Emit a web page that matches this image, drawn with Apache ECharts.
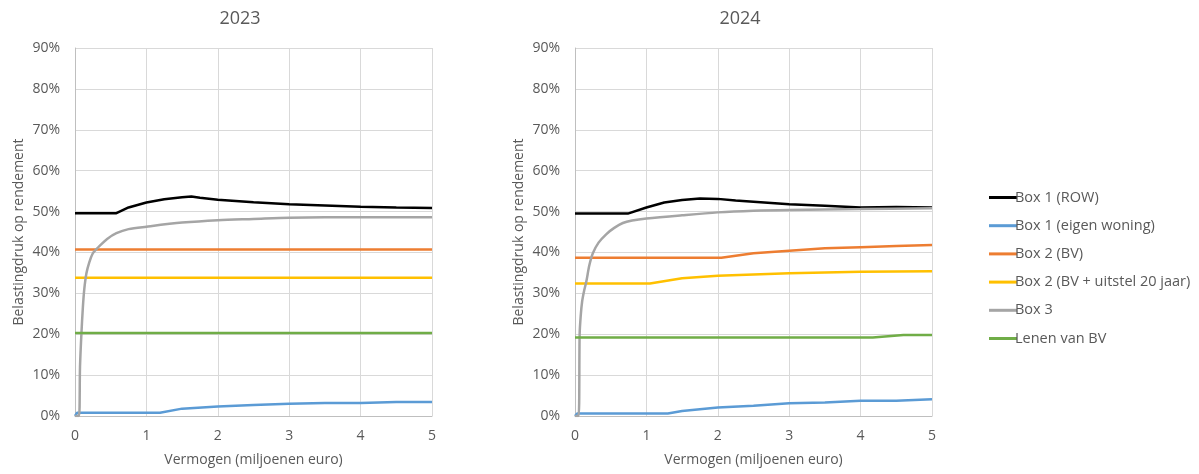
<!DOCTYPE html>
<html lang="nl">
<head>
    <meta charset="UTF-8">
    <script src="https://cdn.jsdelivr.net/npm/echarts@6/dist/echarts.min.js"></script>
</head>
<body style="margin:0;background:#fff;">
<div id="main" style="width:1199px;height:474px;"></div>
<script type="text/javascript">
    // ---- data (x in miljoenen euro, y in %) ----
    var names = ['Box 1 (ROW)', 'Box 1 (eigen woning)', 'Box 2 (BV)', 'Box 2 (BV + uitstel 20 jaar)', 'Box 3', 'Lenen van BV'];
    var colors = ['#000000', '#5b9bd5', '#ed7d31', '#ffc000', '#a5a5a5', '#70ad47'];
    var xTicks = [0, 1, 2, 3, 4, 5];

    // 2023
    var rowX2023 = [0, 0.58, 0.75, 1.0, 1.25, 1.5, 1.63, 1.75, 2.0, 2.5, 3.0, 3.5, 4.0, 4.5, 5.0];
    var rowY2023 = [49.6, 49.6, 51.0, 52.2, 53.0, 53.5, 53.7, 53.4, 52.9, 52.3, 51.8, 51.5, 51.2, 51.0, 50.9];
    var eigenX2023 = [0, 0.03, 1.19, 1.5, 2.0, 2.5, 3.0, 3.5, 4.0, 4.5, 5.0];
    var eigenY2023 = [0, 0.8, 0.8, 1.8, 2.3, 2.7, 3.0, 3.2, 3.2, 3.4, 3.4];
    var bvX2023 = [0, 5];
    var bvY2023 = [40.7, 40.7];
    var uitstelX2023 = [0, 5];
    var uitstelY2023 = [33.8, 33.8];
    var box3X2023 = [0, 0.055, 0.07, 0.09, 0.11, 0.13, 0.16, 0.2, 0.25, 0.3, 0.345, 0.45, 0.58, 0.75, 1.0, 1.5, 2.0, 2.5, 3.0, 4.0, 5.0];
    var box3Y2023 = [0, 0, 12.0, 20.2, 26.5, 31.0, 34.9, 37.6, 39.8, 40.8, 41.6, 43.3, 44.7, 45.7, 46.3, 47.3, 47.9, 48.2, 48.5, 48.6, 48.6];
    var lenenX2023 = [0, 5];
    var lenenY2023 = [20.3, 20.3];

    // 2024
    var rowX2024 = [0, 0.74, 1.0, 1.25, 1.5, 1.75, 2.0, 2.25, 2.5, 3.0, 3.5, 4.0, 4.5, 5.0];
    var rowY2024 = [49.5, 49.5, 51.0, 52.2, 52.8, 53.2, 53.1, 52.7, 52.4, 51.8, 51.4, 51.0, 51.1, 51.0];
    var eigenX2024 = [0, 0.03, 1.3, 1.5, 2.0, 2.5, 3.0, 3.5, 4.0, 4.5, 5.0];
    var eigenY2024 = [0, 0.6, 0.6, 1.2, 2.1, 2.5, 3.1, 3.3, 3.7, 3.7, 4.1];
    var bvX2024 = [0, 2.05, 2.5, 3.0, 3.5, 4.0, 4.5, 5.0];
    var bvY2024 = [38.7, 38.7, 39.8, 40.4, 41.0, 41.3, 41.6, 41.8];
    var uitstelX2024 = [0, 1.05, 1.5, 2.0, 2.5, 3.0, 3.5, 4.0, 5.0];
    var uitstelY2024 = [32.4, 32.4, 33.7, 34.3, 34.6, 34.9, 35.1, 35.3, 35.4];
    var box3X2024 = [0, 0.05, 0.065, 0.08, 0.1, 0.13, 0.16, 0.2, 0.25, 0.33, 0.44, 0.55, 0.67, 0.8, 1.0, 1.5, 2.0, 2.5, 3.0, 4.0, 5.0];
    var box3Y2024 = [0, 0, 20.0, 24.5, 28.0, 30.8, 33.0, 36.8, 39.8, 42.4, 44.5, 46.0, 47.2, 47.8, 48.3, 49.1, 49.8, 50.2, 50.4, 50.6, 50.8];
    var lenenX2024 = [0, 4.17, 4.6, 5.0];
    var lenenY2024 = [19.2, 19.2, 19.8, 19.8];

    var xs2023 = [rowX2023, eigenX2023, bvX2023, uitstelX2023, box3X2023, lenenX2023];
    var ys2023 = [rowY2023, eigenY2023, bvY2023, uitstelY2023, box3Y2023, lenenY2023];
    var xs2024 = [rowX2024, eigenX2024, bvX2024, uitstelX2024, box3X2024, lenenX2024];
    var ys2024 = [rowY2024, eigenY2024, bvY2024, uitstelY2024, box3Y2024, lenenY2024];

    function pairs(xArr, yArr) {
        return xArr.map(function (x, i) { return [x, yArr[i]]; });
    }

    var textColor = '#595959';
    var font = '"Open Sans", sans-serif';

    function xAxisFor(idx) {
        return {
            gridIndex: idx, type: 'value', min: 0, max: 5, interval: 1,
            name: 'Vermogen (miljoenen euro)', nameLocation: 'middle', nameGap: 37,
            nameTextStyle: { color: textColor, fontSize: 14, fontFamily: font },
            axisLine: { lineStyle: { color: '#bfbfbf' } },
            axisTick: { show: false },
            axisLabel: { color: textColor, fontSize: 14, fontFamily: font, margin: 13 },
            splitLine: { show: true, lineStyle: { color: '#d9d9d9' } }
        };
    }
    function yAxisFor(idx) {
        return {
            gridIndex: idx, type: 'value', min: 0, max: 90, interval: 10,
            name: 'Belastingdruk op rendement', nameLocation: 'middle', nameGap: 49,
            nameTextStyle: { color: textColor, fontSize: 14, fontFamily: font },
            axisLine: { show: true, lineStyle: { color: '#bfbfbf' } },
            axisTick: { show: false },
            axisLabel: { color: textColor, fontSize: 14, fontFamily: font, margin: 15, formatter: '{value}%' },
            splitLine: { show: true, lineStyle: { color: '#d9d9d9' } }
        };
    }

    function makeSeries(i, axis, xArr, yArr) {
        return {
            name: names[i], type: 'line', xAxisIndex: axis, yAxisIndex: axis,
            data: pairs(xArr, yArr), showSymbol: false,
            smooth: (i === 4) ? 0.3 : false,
            lineStyle: { color: colors[i], width: 2.5 }, itemStyle: { color: colors[i] }
        };
    }

    var series = [];
    names.forEach(function (n, i) { series.push(makeSeries(i, 0, xs2023[i], ys2023[i])); });
    names.forEach(function (n, i) { series.push(makeSeries(i, 1, xs2024[i], ys2024[i])); });

    var myChart = echarts.init(document.getElementById('main'));
    var option = {
        animation: false,
        backgroundColor: '#ffffff',
        title: [
            { text: '2023', left: 235, top: 5, textAlign: 'center',
              textStyle: { color: textColor, fontSize: 18, fontWeight: 'normal', fontFamily: font } },
            { text: '2024', left: 735, top: 5, textAlign: 'center',
              textStyle: { color: textColor, fontSize: 18, fontWeight: 'normal', fontFamily: font } }
        ],
        legend: {
            data: names, orient: 'vertical', left: 984, top: 185,
            itemWidth: 28, itemHeight: 3, itemGap: 13.2, icon: 'rect',
            textStyle: { color: textColor, fontSize: 14.5, fontFamily: font, padding: [0, 0, 0, -7] }
        },
        grid: [
            { left: 75, top: 48, width: 357, height: 368 },
            { left: 575, top: 48, width: 357, height: 368 }
        ],
        xAxis: [xAxisFor(0), xAxisFor(1)],
        yAxis: [yAxisFor(0), yAxisFor(1)],
        series: series
    };
    myChart.setOption(option);
</script>
</body>
</html>
